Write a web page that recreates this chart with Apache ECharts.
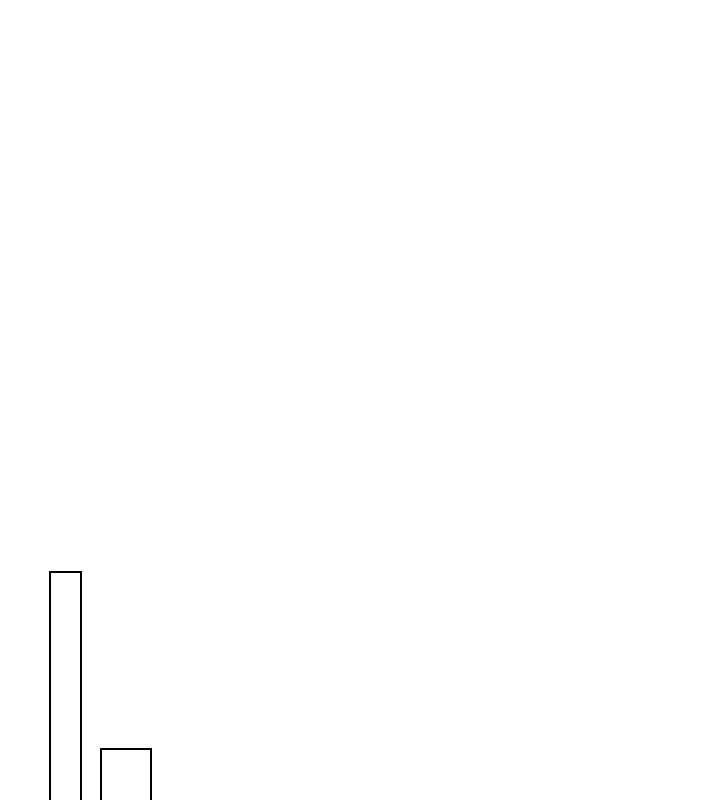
<!DOCTYPE html>
<html>
<head>
<meta charset="utf-8">
<script src="https://cdn.jsdelivr.net/npm/echarts@6/dist/echarts.min.js"></script>
<style>
    html, body { margin: 0; padding: 0; background: #fff; }
    #chart-main { width: 720px; height: 800px; }
</style>
</head>
<body>
<div id="chart-main"></div>
<script>
// bar extents along x (left, right) and heights
var barStarts = [50, 101];
var barEnds = [81, 151];
var barHeights = [238, 61];

var data = [];
for (var i = 0; i < barStarts.length; i++) {
    data.push([barStarts[i], barEnds[i], barHeights[i]]);
}

var option = {
    backgroundColor: '#ffffff',
    animation: false,
    grid: {left: 0, right: 0, top: 0, bottom: 0},
    xAxis: {type: 'value', min: 0, max: 720, show: false},
    // baseline sits just below the visible area
    yAxis: {type: 'value', min: 10, max: 810, show: false},
    series: [
        {
            type: 'custom',
            clip: false,
            data: data,
            encode: {x: [0, 1], y: 2},
            renderItem: function (params, api) {
                var p0 = api.coord([api.value(0), 0]);
                var p1 = api.coord([api.value(1), api.value(2)]);
                return {
                    type: 'rect',
                    shape: {
                        x: p0[0],
                        y: p1[1],
                        width: p1[0] - p0[0],
                        height: p0[1] - p1[1]
                    },
                    style: {fill: '#ffffff', stroke: '#000000', lineWidth: 2}
                };
            }
        }
    ]
};

var myChart = echarts.init(document.getElementById('chart-main'));
myChart.setOption(option);
</script>
</body>
</html>
